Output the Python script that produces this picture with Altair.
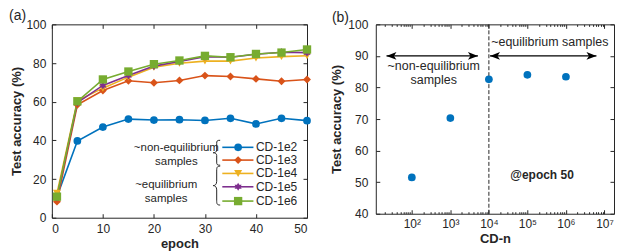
import altair as alt
import pandas as pd

# ---------------- data ----------------
epochs = [1, 5, 10, 15, 20, 25, 30, 35, 40, 45, 50]
series = ["CD-1e2", "CD-1e3", "CD-1e4", "CD-1e5", "CD-1e6"]
acc_1e2 = [10.9, 39.7, 46.9, 51.0, 50.5, 50.7, 50.3, 51.4, 48.5, 51.4, 50.2]
acc_1e3 = [8.3, 58.4, 65.8, 70.8, 69.8, 71.0, 73.5, 73.0, 71.8, 70.6, 71.5]
acc_1e4 = [12.6, 60.5, 67.0, 72.7, 77.8, 79.9, 81.0, 81.0, 82.6, 83.3, 83.8]
acc_1e5 = [10.5, 59.5, 68.4, 73.6, 78.4, 80.8, 83.3, 83.0, 84.5, 85.6, 85.4]
acc_1e6 = [10.9, 60.2, 71.5, 75.6, 79.4, 81.3, 83.7, 83.0, 84.7, 85.4, 87.0]
colors = ["#0072BD", "#D95319", "#EDB120", "#7E2F8E", "#77AC30"]

cd_n = [1e2, 1e3, 1e4, 1e5, 1e6]
acc_epoch50 = [51.5, 70.3, 82.6, 84.0, 83.4]

x_ticks_a = [0, 10, 20, 30, 40, 50]
y_ticks_a = [0, 20, 40, 60, 80, 100]
x_ticks_b = [1e2, 1e3, 1e4, 1e5, 1e6, 1e7]
y_ticks_b = [40, 50, 60, 70, 80, 90, 100]
x_minor_b = [m * 10 ** k for k in range(1, 8) for m in range(2, 10)
             if 11.6 <= m * 10 ** k <= 1.77e7]

FONT = "Liberation Sans"
TXT = "#262626"

rows = []
for s, vals in zip(series, [acc_1e2, acc_1e3, acc_1e4, acc_1e5, acc_1e6]):
    for e, v in zip(epochs, vals):
        rows.append({"series": s, "epoch": e, "acc": v})
df = pd.DataFrame(rows)
one = pd.DataFrame({"k": [0]})

HEX = ("M0,-1L0.29,-0.5L0.87,-0.5L0.58,0L0.87,0.5L0.29,0.5L0,1L-0.29,0.5"
       "L-0.87,0.5L-0.58,0L-0.87,-0.5L-0.29,-0.5Z")
shapes = ["circle", "diamond", "triangle-down", HEX, "square"]
sizes = [60, 70, 62, 95, 52]


def brace_path(w):
    h = w / 2
    return (f"M{w},-1C{h * 0.2},-1 0,-0.95 0,-0.75L0,-0.22"
            f"C0,-0.06 {-h},0 {-w},0C{-h},0 0,0.06 0,0.22"
            f"L0,0.75C0,0.95 {h * 0.2},1 {w},1")


BRACE1 = brace_path(0.28)
BRACE2 = brace_path(0.18)
ARROW_R = "M0,0L-1,-0.38L-0.75,0L-1,0.38Z"
ARROW_L = "M0,0L1,-0.38L0.75,0L1,0.38Z"

# ---------------- panel (a) ----------------
xs_a = alt.Scale(domain=[0, 50], nice=False, zero=False)
ys_a = alt.Scale(domain=[0, 100], nice=False, zero=False)
cscale = alt.Scale(domain=series, range=colors)
sscale = alt.Scale(domain=series, range=shapes)
zscale = alt.Scale(domain=series, range=sizes)

Xa = alt.X("epoch:Q", scale=xs_a, axis=None)
Ya = alt.Y("acc:Q", scale=ys_a, axis=None)

lines = alt.Chart(df).mark_line(strokeWidth=1.6).encode(
    x=Xa, y=Ya, color=alt.Color("series:N", scale=cscale, legend=None))
points = alt.Chart(df).mark_point(filled=True, opacity=1).encode(
    x=Xa, y=Ya,
    color=alt.Color("series:N", scale=cscale, legend=None),
    shape=alt.Shape("series:N", scale=sscale, legend=None),
    size=alt.Size("series:N", scale=zscale, legend=None))

# custom legend (placed in data units of panel a)
leg = pd.DataFrame({"series": series,
                    "ly": [36.4, 29.8, 22.9, 16.0, 8.6]})
leg_lines = alt.Chart(leg).mark_rule(strokeWidth=1.6).encode(
    x=alt.datum(33.4, scale=xs_a, axis=None), x2=alt.datum(39.5),
    y=alt.Y("ly:Q", scale=ys_a, axis=None),
    color=alt.Color("series:N", scale=cscale, legend=None))
leg_pts = alt.Chart(leg).mark_point(filled=True, opacity=1).encode(
    x=alt.datum(36.5, scale=xs_a, axis=None),
    y=alt.Y("ly:Q", scale=ys_a, axis=None),
    color=alt.Color("series:N", scale=cscale, legend=None),
    shape=alt.Shape("series:N", scale=sscale, legend=None),
    size=alt.Size("series:N", scale=zscale, legend=None))
leg_txt = alt.Chart(leg).mark_text(align="left", baseline="middle", font=FONT,
                                   fontSize=12, color=TXT).encode(
    x=alt.datum(40.0, scale=xs_a, axis=None),
    y=alt.Y("ly:Q", scale=ys_a, axis=None),
    text="series:N")


def txt_a(t, x, y, size=11.5, align="center"):
    return alt.Chart(one).mark_text(text=t, align=align, baseline="middle",
                                    font=FONT, fontSize=size, color=TXT).encode(
        x=alt.datum(x, scale=xs_a, axis=None), y=alt.datum(y, scale=ys_a, axis=None))


grp_txt = [txt_a("~non-equilibrium", 24.4, 35.9), txt_a("samples", 24.4, 29.0),
           txt_a("~equilibrium", 22.4, 17.0), txt_a("samples", 22.4, 9.8)]

brace1 = alt.Chart(one).mark_point(shape=BRACE1, size=625, filled=False,
                                   stroke=TXT, strokeWidth=1, opacity=1).encode(
    x=alt.datum(32.3, scale=xs_a, axis=None), y=alt.datum(33.6, scale=ys_a, axis=None))
brace2 = alt.Chart(one).mark_point(shape=BRACE2, size=1521, filled=False,
                                   stroke=TXT, strokeWidth=1, opacity=1).encode(
    x=alt.datum(32.3, scale=xs_a, axis=None), y=alt.datum(16.6, scale=ys_a, axis=None))

lab_a = txt_a("(a)", -8.4, 104.1, size=14, align="left")


def xaxis(xscale, yscale, yv, values, **kw):
    d = pd.DataFrame({"v": values})
    return alt.Chart(d).mark_point(opacity=0).encode(
        x=alt.X("v:Q", scale=xscale, axis=alt.Axis(values=values, grid=False,
                                                     domain=False, **kw)),
        y=alt.datum(yv, scale=yscale, axis=None))


def yaxis(xscale, yscale, xv, values, **kw):
    d = pd.DataFrame({"v": values})
    return alt.Chart(d).mark_point(opacity=0).encode(
        y=alt.Y("v:Q", scale=yscale, axis=alt.Axis(values=values, grid=False,
                                                     domain=False, **kw)),
        x=alt.datum(xv, scale=xscale, axis=None))


axes_a = [
    xaxis(xs_a, ys_a, 50, x_ticks_a, orient="bottom", offset=-4, tickSize=4,
          labelPadding=6, title="epoch", titlePadding=3),
    xaxis(xs_a, ys_a, 50, x_ticks_a, orient="top", offset=-4, tickSize=4,
          labels=False, title=None),
    yaxis(xs_a, ys_a, 25, y_ticks_a, orient="left", offset=-4, tickSize=4,
          labelPadding=6, title="Test accuracy (%)", titlePadding=2),
    yaxis(xs_a, ys_a, 25, y_ticks_a, orient="right", offset=-4, tickSize=4,
          labels=False, title=None),
]

panel_a = alt.layer(lines, points, leg_lines, leg_pts, leg_txt, *grp_txt,
                    brace1, brace2, lab_a, *axes_a).resolve_axis(
    x="independent", y="independent").properties(width=256, height=194)

# ---------------- panel (b) ----------------
xs_b = alt.Scale(type="log", domain=[11.6, 1.77e7], nice=False)
ys_b = alt.Scale(domain=[40, 100], nice=False, zero=False)

dfb = pd.DataFrame({"n": cd_n, "acc": acc_epoch50})
pts_b = alt.Chart(dfb).mark_circle(size=60, opacity=1, color="#0072BD").encode(
    x=alt.X("n:Q", scale=xs_b, axis=None), y=alt.Y("acc:Q", scale=ys_b, axis=None))

vline = alt.Chart(one).mark_rule(color=TXT, strokeWidth=1, strokeDash=[4, 2]).encode(
    x=alt.datum(1e4, scale=xs_b, axis=None),
    y=alt.datum(40, scale=ys_b, axis=None), y2=alt.datum(100))

arrows = pd.DataFrame({"a0": [22, 10700], "a1": [5200, 6.2e6], "ay": [90, 90]})
arr_line = alt.Chart(arrows).mark_rule(color="black", strokeWidth=1.2).encode(
    x=alt.X("a0:Q", scale=xs_b, axis=None), x2="a1:Q",
    y=alt.Y("ay:Q", scale=ys_b, axis=None))
arr_l = alt.Chart(arrows).mark_point(shape=ARROW_L, size=400, filled=True,
                                     color="black", opacity=1).encode(
    x=alt.X("a0:Q", scale=xs_b, axis=None), y=alt.Y("ay:Q", scale=ys_b, axis=None))
arr_r = alt.Chart(arrows).mark_point(shape=ARROW_R, size=400, filled=True,
                                     color="black", opacity=1).encode(
    x=alt.X("a1:Q", scale=xs_b, axis=None), y=alt.Y("ay:Q", scale=ys_b, axis=None))


def txt_b(t, x, y, align="center", size=12.5, weight="normal"):
    return alt.Chart(one).mark_text(text=t, align=align, baseline="middle", font=FONT,
                                    fontSize=size, fontWeight=weight, color=TXT).encode(
        x=alt.datum(x, scale=xs_b, axis=None), y=alt.datum(y, scale=ys_b, axis=None))


texts_b = [txt_b("~non-equilibrium", 370, 86.8), txt_b("samples", 370, 82.3),
           txt_b("~equilibrium  samples", 11500, 94.3, align="left"),
           txt_b("@epoch 50", 2.4e5, 52.4, size=12, weight="bold")]

lab_b = txt_b("(b)", 0.845, 102.05, align="left", size=14)

SUP = ("'10' + ['\u2070','\u00b9','\u00b2','\u00b3','\u2074','\u2075','\u2076',"
       "'\u2077','\u2078','\u2079'][round(log(datum.value)/LN10)]")

axes_b = [
    xaxis(xs_b, ys_b, 70, x_ticks_b, orient="bottom", offset=-4, tickSize=4,
          labelPadding=5, labelExpr=SUP, title="CD-n", titlePadding=3),
    xaxis(xs_b, ys_b, 70, x_ticks_b, orient="top", offset=-4, tickSize=4,
          labels=False, title=None),
    xaxis(xs_b, ys_b, 70, x_minor_b, orient="bottom", offset=-2, tickSize=2,
          labels=False, title=None),
    xaxis(xs_b, ys_b, 70, x_minor_b, orient="top", offset=-2, tickSize=2,
          labels=False, title=None),
    yaxis(xs_b, ys_b, 1e4, y_ticks_b, orient="left", offset=-4, tickSize=4,
          labelPadding=8, title="Test accuracy (%)", titlePadding=4),
    yaxis(xs_b, ys_b, 1e4, y_ticks_b, orient="right", offset=-4, tickSize=4,
          labels=False, title=None),
]

panel_b = alt.layer(vline, arr_line, arr_l, arr_r, pts_b, *texts_b, lab_b,
                    *axes_b).resolve_axis(
    x="independent", y="independent").properties(width=239, height=190)

chart = alt.hconcat(panel_a, panel_b, spacing=18).properties(
    padding=0
).configure_axis(
    labelFont=FONT, labelFontSize=12, labelColor=TXT,
    titleFont=FONT, titleFontSize=13, titleFontWeight="bold", titleColor=TXT,
    tickColor=TXT, tickWidth=1
).configure_view(stroke=TXT, strokeWidth=1)

chart.save("out.html", embed_options={"renderer": "svg", "actions": False})
